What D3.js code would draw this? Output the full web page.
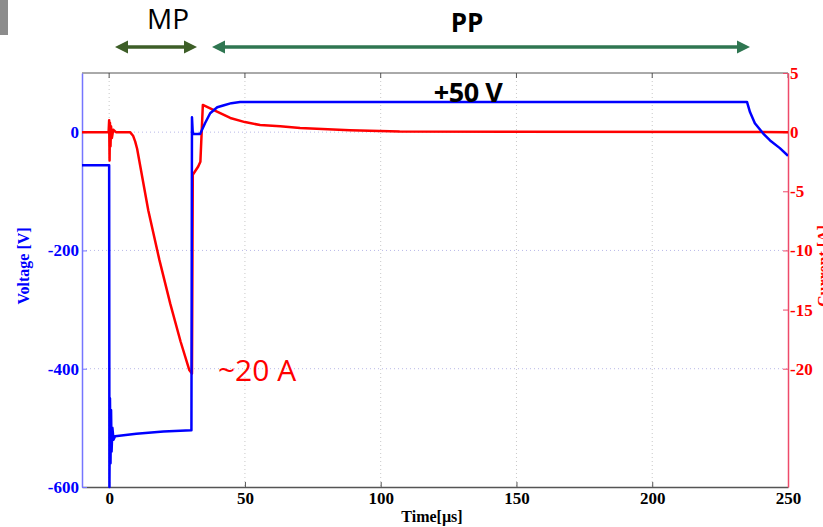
<!DOCTYPE html>
<html>
<head>
<meta charset="utf-8">
<script src="https://cdn.jsdelivr.net/npm/d3@7/dist/d3.min.js"></script>
<style>
  html, body { margin: 0; padding: 0; background: #fff; }
  svg { display: block; }
  .tick text { font-family: "Liberation Serif", "Times New Roman", serif; font-weight: bold; font-size: 17px; }
</style>
</head>
<body>
<svg id="chart" width="823" height="527"></svg>
<script>
// Pulse waveform: discharge voltage (left axis) and current (right axis) versus time
const timeTicks = [0, 50, 100, 150, 200, 250];
const voltageTicks = [-600, -400, -200, 0];
const currentTicks = [5, 0, -5, -10, -15, -20];

// Voltage trace [V]
const timeV = [-10, 0, 0.1, 0.3, 0.5, 0.7, 0.9, 1.2, 1.6, 2.2, 10, 20, 30.3, 30.5, 30.8, 33.5, 35.3, 37.2, 39.8, 42, 45, 48.2,
               100, 150, 200, 234.9, 236, 237.8, 240.8, 243.4, 247, 250];
const voltage = [-56, -56, -600, -450, -560, -470, -540, -500, -520, -514, -510, -506, -504, 25, -3, -3, 15, 32, 42, 45, 49, 51,
                 51, 51, 51, 51, 34, 15, -2, -14, -27, -40];

// Current trace [A]
const timeI = [-10, -0.2, 0, 0.15, 0.3, 0.5, 0.7, 1.0, 1.5, 2.5, 7.7, 8.8, 9.6, 10.3, 14.4, 18.5, 22.5, 26.3, 29.5, 30.5,
               30.8, 32.8, 33.6, 34.5, 37.2, 40.9, 44.6, 50, 55.6, 63, 70.3, 88.7, 107, 250];
const current = [0, 0, 1.0, -2.4, 0.8, -1.2, 0.5, -0.5, 0.2, 0, 0, -0.3, -0.8, -1.4, -6.6, -10.8, -14.5, -17.7, -20.1, -20.4,
                 -3.6, -2.9, -2.5, 2.3, 2.0, 1.6, 1.2, 0.85, 0.6, 0.5, 0.35, 0.17, 0.05, 0];

const svg = d3.select("#chart");
const L = 82, R = 788, T = 73, B = 487;

const x = d3.scaleLinear().domain([-10, 250]).range([L, R]);
const yV = d3.scaleLinear().domain([-600, 100]).range([B, T]);
const yA = d3.scaleLinear().domain([-30, 5]).range([B, T]);

// plain hyphen for negative tick values
const plain = d => String(d);

// corner of a neighbouring image
svg.append("rect").attr("x", 0).attr("y", 0).attr("width", 8).attr("height", 35).attr("fill", "#8c8c8c");

// dotted grid
const grid = svg.append("g");
grid.selectAll("line.vg").data(timeTicks.filter(d => d < 250)).join("line")
  .attr("x1", d => x(d)).attr("x2", d => x(d)).attr("y1", T).attr("y2", B)
  .attr("stroke", "#c8c8c8").attr("stroke-width", 1).attr("stroke-dasharray", "1,3");
grid.selectAll("line.hg").data(voltageTicks.filter(d => d > -600)).join("line")
  .attr("x1", L).attr("x2", R).attr("y1", d => yV(d)).attr("y2", d => yV(d))
  .attr("stroke", "#b8b8e8").attr("stroke-width", 1).attr("stroke-dasharray", "1,3");

// top frame with inward ticks
svg.append("line").attr("x1", L).attr("x2", R).attr("y1", T).attr("y2", T).attr("stroke", "#555").attr("stroke-width", 1);
svg.append("g").selectAll("line").data(timeTicks).join("line")
  .attr("x1", d => x(d)).attr("x2", d => x(d)).attr("y1", T).attr("y2", T + 5).attr("stroke", "#555");

// axes
const xAxis = d3.axisBottom(x).tickValues(timeTicks).tickFormat(plain).tickSizeInner(-5).tickSizeOuter(0).tickPadding(5);
const gx = svg.append("g").attr("transform", `translate(0,${B})`).call(xAxis);
gx.select(".domain").attr("stroke", "#555").attr("stroke-width", 1.5);
gx.selectAll(".tick line").attr("stroke", "#555");
gx.selectAll(".tick text").attr("fill", "#000");

const vAxis = d3.axisLeft(yV).tickValues(voltageTicks).tickFormat(plain).tickSizeInner(-5).tickSizeOuter(0).tickPadding(3);
const gv = svg.append("g").attr("transform", `translate(${L},0)`).call(vAxis);
gv.select(".domain").attr("stroke", "#7575ff").attr("stroke-width", 1.5);
gv.selectAll(".tick line").attr("stroke", "#7575ff");
gv.selectAll(".tick text").attr("fill", "#0000ff");

const aAxis = d3.axisRight(yA).tickValues(currentTicks).tickFormat(plain).tickSizeInner(-5).tickSizeOuter(0).tickPadding(2);
const ga = svg.append("g").attr("transform", `translate(${R},0)`).call(aAxis);
ga.select(".domain").attr("stroke", "#ee4a6a").attr("stroke-width", 1.5);
ga.selectAll(".tick line").attr("stroke", "#ee4a6a");
ga.selectAll(".tick text").attr("fill", "#ff0000");

// axis titles
const serif = "'Liberation Serif', 'Times New Roman', serif";
svg.append("text").attr("x", 432).attr("y", 522).attr("text-anchor", "middle")
  .attr("font-family", serif).attr("font-weight", "bold").attr("font-size", 16).attr("fill", "#000")
  .text("Time[µs]");
svg.append("text").attr("transform", "translate(29,266) rotate(-90)").attr("text-anchor", "middle")
  .attr("font-family", serif).attr("font-weight", "bold").attr("font-size", 16).attr("fill", "#0000ff")
  .text("Voltage [V]");
svg.append("text").attr("transform", "translate(829,266) rotate(-90)").attr("text-anchor", "middle")
  .attr("font-family", serif).attr("font-weight", "bold").attr("font-size", 16).attr("fill", "#ff0000")
  .text("Current [A]");

// traces
const clip = svg.append("clipPath").attr("id", "plotclip").append("rect")
  .attr("x", L).attr("y", T - 10).attr("width", R - L).attr("height", B - T + 12);

const lineI = d3.line().x((d, i) => x(timeI[i])).y(d => yA(d));
svg.append("path").datum(current).attr("d", lineI).attr("fill", "none")
  .attr("stroke", "#ff0000").attr("stroke-width", 2.5).attr("stroke-linejoin", "round")
  .attr("clip-path", "url(#plotclip)");

const lineV = d3.line().x((d, i) => x(timeV[i])).y(d => yV(d));
svg.append("path").datum(voltage).attr("d", lineV).attr("fill", "none")
  .attr("stroke", "#0000ff").attr("stroke-width", 2.5).attr("stroke-linejoin", "round")
  .attr("clip-path", "url(#plotclip)");

// annotations
const sans = "'Open Sans', 'Liberation Sans', sans-serif";
svg.append("text").attr("x", 468).attr("y", 102).attr("text-anchor", "middle")
  .attr("font-family", sans).attr("font-weight", "bold").attr("font-size", 27).attr("fill", "#000")
  .attr("letter-spacing", -0.5).text("+50 V");
svg.append("text").attr("x", 257).attr("y", 381).attr("text-anchor", "middle")
  .attr("font-family", sans).attr("font-size", 30).attr("fill", "#ff0000")
  .text("~20 A");
svg.append("text").attr("x", 168).attr("y", 29).attr("text-anchor", "middle")
  .attr("font-family", sans).attr("font-size", 28).attr("fill", "#000")
  .text("MP");
svg.append("text").attr("x", 467).attr("y", 32).attr("text-anchor", "middle")
  .attr("font-family", sans).attr("font-weight", "bold").attr("font-size", 26).attr("fill", "#000")
  .text("PP");

// phase arrows
function arrow(x1, x2, y, color) {
  const g = svg.append("g");
  const h = 13, w = 6.5;
  g.append("line").attr("x1", x1 + h - 2).attr("x2", x2 - h + 2).attr("y1", y).attr("y2", y)
    .attr("stroke", color).attr("stroke-width", 3.5);
  g.append("path").attr("d", `M${x1},${y} L${x1 + h},${y - w} L${x1 + h},${y + w} Z`).attr("fill", color);
  g.append("path").attr("d", `M${x2},${y} L${x2 - h},${y - w} L${x2 - h},${y + w} Z`).attr("fill", color);
}
arrow(115, 197, 47, "#3d5e27");
arrow(212, 750, 47, "#2f7651");
</script>
</body>
</html>
